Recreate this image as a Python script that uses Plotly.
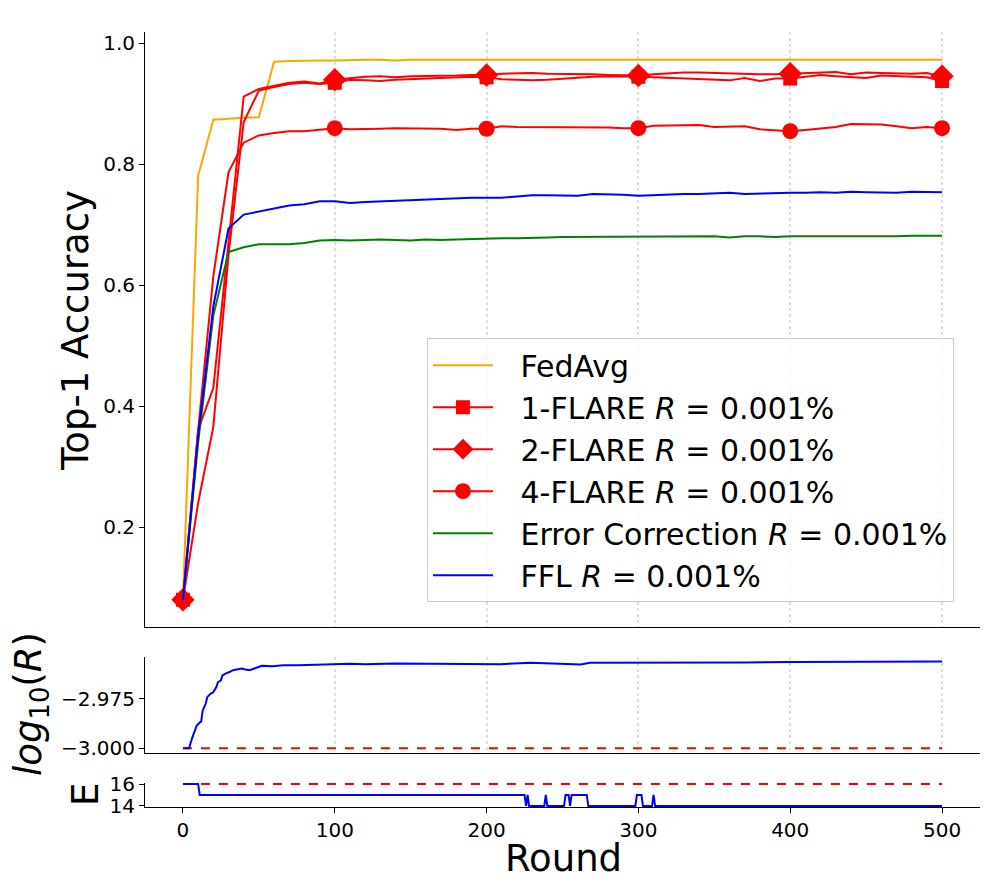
import plotly.graph_objects as go

# ---- data ----
rounds = list(range(0, 501, 10))

fedavg = [0.080, 0.781, 0.874, 0.876, 0.877, 0.878, 0.970, 0.971, 0.972, 0.972,
          0.972, 0.973, 0.973, 0.973, 0.972, 0.973, 0.973, 0.973, 0.973, 0.973,
          0.973, 0.973, 0.973, 0.972, 0.973, 0.973, 0.973, 0.973, 0.973, 0.973,
          0.972, 0.972, 0.973, 0.973, 0.973, 0.973, 0.972, 0.973, 0.973, 0.973,
          0.973, 0.973, 0.973, 0.973, 0.973, 0.973, 0.973, 0.973, 0.973, 0.973, 0.973]

flare1 = [0.080, 0.240, 0.366, 0.650, 0.870, 0.922, 0.928, 0.933, 0.935, 0.933,
          0.935, 0.940, 0.939, 0.938, 0.940, 0.941, 0.942, 0.943, 0.944, 0.945,
          0.944, 0.941, 0.940, 0.939, 0.940, 0.942, 0.943, 0.945, 0.946, 0.946,
          0.945, 0.944, 0.943, 0.942, 0.941, 0.940, 0.939, 0.943, 0.938, 0.942,
          0.942, 0.945, 0.948, 0.946, 0.944, 0.943, 0.947, 0.946, 0.945, 0.944, 0.938]

flare2 = [0.080, 0.361, 0.430, 0.667, 0.912, 0.925, 0.930, 0.935, 0.937, 0.934,
          0.940, 0.943, 0.945, 0.946, 0.944, 0.946, 0.946, 0.947, 0.947, 0.948,
          0.948, 0.950, 0.951, 0.951, 0.950, 0.950, 0.950, 0.949, 0.948, 0.947,
          0.947, 0.949, 0.951, 0.952, 0.952, 0.951, 0.950, 0.950, 0.949, 0.949,
          0.950, 0.951, 0.952, 0.953, 0.949, 0.952, 0.951, 0.950, 0.950, 0.951, 0.946]

flare4 = [0.080, 0.360, 0.615, 0.787, 0.836, 0.848, 0.852, 0.855, 0.855, 0.858,
          0.860, 0.858, 0.858, 0.859, 0.860, 0.860, 0.860, 0.859, 0.857, 0.859,
          0.859, 0.863, 0.862, 0.862, 0.862, 0.861, 0.862, 0.862, 0.861, 0.860,
          0.860, 0.864, 0.864, 0.865, 0.865, 0.862, 0.862, 0.863, 0.858, 0.857,
          0.855, 0.857, 0.859, 0.862, 0.867, 0.866, 0.866, 0.863, 0.860, 0.862, 0.860]

err_corr = [0.080, 0.340, 0.550, 0.655, 0.663, 0.668, 0.668, 0.668, 0.670, 0.674,
            0.675, 0.674, 0.675, 0.676, 0.675, 0.674, 0.676, 0.675, 0.676, 0.677,
            0.677, 0.678, 0.678, 0.678, 0.679, 0.680, 0.680, 0.680, 0.680, 0.680,
            0.680, 0.681, 0.681, 0.681, 0.681, 0.681, 0.679, 0.681, 0.681, 0.680,
            0.681, 0.681, 0.680, 0.680, 0.680, 0.680, 0.681, 0.681, 0.682, 0.682, 0.682]

ffl = [0.080, 0.350, 0.565, 0.694, 0.717, 0.722, 0.727, 0.732, 0.734, 0.739,
       0.739, 0.736, 0.738, 0.739, 0.740, 0.742, 0.743, 0.743, 0.745, 0.745,
       0.745, 0.745, 0.747, 0.749, 0.749, 0.749, 0.748, 0.751, 0.751, 0.750,
       0.748, 0.749, 0.751, 0.751, 0.751, 0.752, 0.753, 0.751, 0.752, 0.753,
       0.753, 0.753, 0.754, 0.753, 0.755, 0.754, 0.754, 0.753, 0.755, 0.755, 0.754]

marker_rounds = [0, 100, 200, 300, 400, 500]

# FFL compression ratio, log10(R)
logr_rounds = [0, 4, 6, 8, 9, 11, 12, 13, 15, 16, 18, 20, 22, 23, 24, 25, 26, 28,
               31, 33, 37, 39, 41, 44, 47, 52, 59, 66, 76, 88, 99, 110, 120, 140,
               160, 180, 196, 209, 229, 251, 262, 268, 300, 327, 371, 400, 437,
               470, 474, 500]
logr_vals = [-3.0000, -3.0000, -2.9950, -2.9913, -2.9887, -2.9871, -2.9866, -2.9811,
             -2.9775, -2.9743, -2.9727, -2.9718, -2.9692, -2.9668, -2.9663, -2.9658,
             -2.9633, -2.9624, -2.9615, -2.9607, -2.9601, -2.9599, -2.9604, -2.9607,
             -2.9599, -2.9585, -2.9587, -2.9582, -2.9582, -2.9578, -2.9577, -2.9575,
             -2.9577, -2.9574, -2.9575, -2.9573, -2.9573, -2.9577, -2.9570, -2.9573,
             -2.9578, -2.9570, -2.9570, -2.9568, -2.9568, -2.9566, -2.9565, -2.9566,
             -2.9563, -2.9563]
logr_target = -3.0

# FFL exponent bits E
e_rounds = [0, 10, 11, 225, 226, 227, 228, 238, 239, 240, 251, 252, 254, 255, 256,
            266, 267, 298, 299, 302, 303, 309, 310, 311, 500]
e_vals = [16, 16, 15, 15, 14, 15, 14, 14, 15, 14, 14, 15, 15, 14, 15,
          15, 14, 14, 15, 15, 14, 14, 15, 14, 14]
e_target = 16

FONT = "DejaVu Sans"
SP = "\u2002\u2005"  # extra gap between legend symbol and text
fig = go.Figure()

# main panel
fig.add_trace(go.Scatter(x=rounds, y=fedavg, mode="lines", name=SP + "FedAvg",
                         line=dict(color="orange", width=2), legendgroup="a"))

flares = [("1-FLARE", flare1, "square", 14),
          ("2-FLARE", flare2, "diamond", 18),
          ("4-FLARE", flare4, "circle", 16)]
for name, vals, sym, ms in flares:
    fig.add_trace(go.Scatter(x=rounds, y=vals, mode="lines", showlegend=False,
                             line=dict(color="red", width=2)))
    mk = [vals[rounds.index(r)] for r in marker_rounds]
    fig.add_trace(go.Scatter(x=marker_rounds, y=mk, mode="markers", showlegend=False,
                             marker=dict(color="red", symbol=sym, size=ms)))
    fig.add_trace(go.Scatter(x=[None], y=[None], mode="lines+markers",
                             name=SP + name + " <i>R</i> = 0.001%", legendgroup=name,
                             line=dict(color="red", width=2),
                             marker=dict(color="red", symbol=sym, size=ms)))

fig.add_trace(go.Scatter(x=rounds, y=err_corr, mode="lines",
                         name=SP + "Error Correction <i>R</i> = 0.001%", legendgroup="e",
                         line=dict(color="green", width=2)))
fig.add_trace(go.Scatter(x=rounds, y=ffl, mode="lines",
                         name=SP + "FFL <i>R</i> = 0.001%", legendgroup="f",
                         line=dict(color="blue", width=2)))

# middle panel: log10(R)
fig.add_trace(go.Scatter(x=[0, 500], y=[logr_target, logr_target], mode="lines",
                         showlegend=False, xaxis="x2", yaxis="y2",
                         line=dict(color="red", width=2, dash="dash")))
fig.add_trace(go.Scatter(x=logr_rounds, y=logr_vals, mode="lines", showlegend=False,
                         xaxis="x2", yaxis="y2", line=dict(color="blue", width=2)))

# bottom panel: E
fig.add_trace(go.Scatter(x=[0, 500], y=[e_target, e_target], mode="lines",
                         showlegend=False, xaxis="x3", yaxis="y3",
                         line=dict(color="red", width=2, dash="dash")))
fig.add_trace(go.Scatter(x=e_rounds, y=e_vals, mode="lines", showlegend=False,
                         xaxis="x3", yaxis="y3", line=dict(color="blue", width=2)))

tickfont = dict(family=FONT, size=20, color="black")
xr = [-25, 525]
gridx = dict(range=xr, tickvals=[100, 200, 300, 400, 500], showticklabels=False,
             ticks="", showgrid=True, gridcolor="rgba(170,170,170,0.4)",
             griddash="dot", gridwidth=1.5, showline=True, linecolor="black",
             linewidth=1, zeroline=False)
yax = dict(showgrid=False, zeroline=False, showline=True, linecolor="black",
           linewidth=1, ticks="outside", ticklen=5, tickcolor="black",
           tickfont=tickfont)

# the page puts the figure 8px in from the top-left corner
OFF = 8
L, T, W, H = 137, 24, 835, 775

fig.update_layout(
    width=989, height=890,
    margin=dict(l=L, r=989 - L - W, t=T, b=890 - T - H),
    paper_bgcolor="white", plot_bgcolor="white",
    font=dict(family=FONT, color="black"),
    xaxis=dict(gridx, anchor="y"),
    xaxis2=dict(gridx, anchor="y2", matches="x"),
    xaxis3=dict(range=xr, anchor="y3", matches="x", tickvals=[0, 100, 200, 300, 400, 500],
                showgrid=False, zeroline=False, showline=True, linecolor="black",
                linewidth=1, ticks="outside", ticklen=5, tickcolor="black",
                tickfont=tickfont),
    yaxis=dict(yax, domain=[0.2323, 1.0], range=[0.035, 1.019],
               tickvals=[0.2, 0.4, 0.6, 0.8, 1.0], tickformat=".1f"),
    yaxis2=dict(yax, domain=[0.0697, 0.1935], range=[-3.0024, -2.9541],
                tickvals=[-3.0, -2.975], tickformat=".3f"),
    yaxis3=dict(yax, domain=[0.0, 0.031], range=[13.9, 16.1], tickvals=[14, 16]),
    legend=dict(x=0.3377, y=0.605, xanchor="left", yanchor="top",
                font=dict(family=FONT, size=30, color="black"),
                bgcolor="rgba(255,255,255,0.8)", bordercolor="#cccccc",
                borderwidth=1, itemwidth=60, tracegroupgap=7,
                traceorder="normal"),
)

# axis titles, placed by page pixel centre
labels = [("Top-1 Accuracy", 75, 331, -90),
          ("<i>log</i><sub>10</sub>(<i>R</i>)", 31, 704, -90),
          ("E", 85, 795, -90),
          ("Round", 563, 858, 0)]
for text, px, py, ang in labels:
    fig.add_annotation(text=text, xref="paper", yref="paper",
                       x=(px - OFF - L) / W, y=(T + H - (py - OFF)) / H,
                       xanchor="center", yanchor="middle", showarrow=False,
                       textangle=ang, font=dict(size=37))

fig.write_html("out.html")
